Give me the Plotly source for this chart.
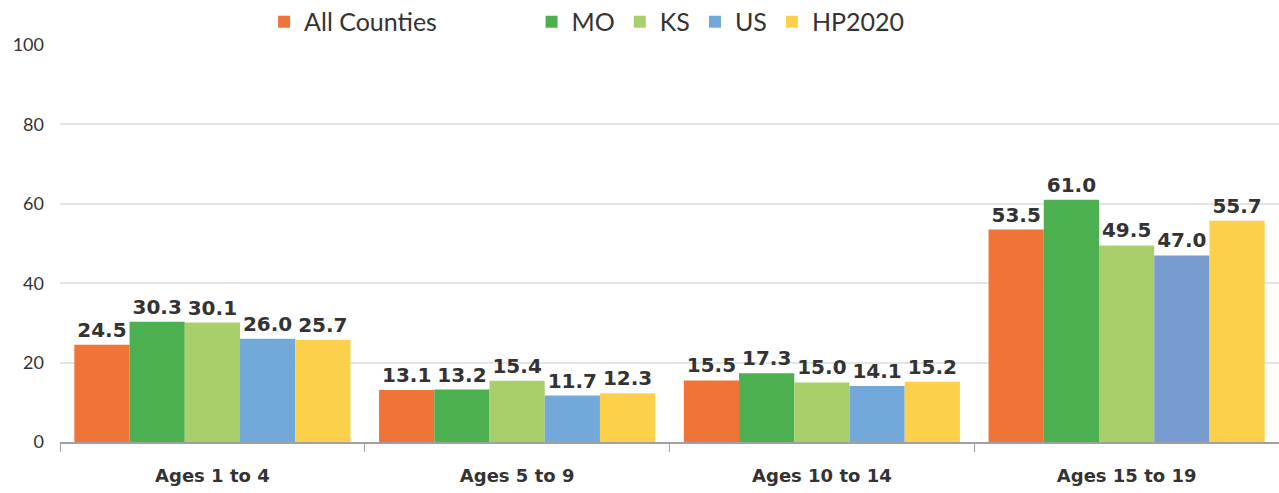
import plotly.graph_objects as go

categories = ["Ages 1 to 4", "Ages 5 to 9", "Ages 10 to 14", "Ages 15 to 19"]
series_names = ["All Counties", "MO", "KS", "US", "HP2020"]
all_counties = [24.5, 13.1, 15.5, 53.5]
mo = [30.3, 13.2, 17.3, 61.0]
ks = [30.1, 15.4, 15.0, 49.5]
us = [26.0, 11.7, 14.1, 47.0]
hp2020 = [25.7, 12.3, 15.2, 55.7]
colors = ["#F07438", "#4CB050", "#A8CF6A", "#73A8DA", "#FDD04B"]
us_last_color = "#789CCF"
y_ticks = [0, 20, 40, 60, 80, 100]

# legend entry padding (non-breaking spaces) to reproduce the wide first legend slot
legend_pad = ["\u00a0" * 14, "", "", "", ""]

fig = go.Figure()
for name, pad, vals, col in zip(series_names, legend_pad,
                                [all_counties, mo, ks, us, hp2020], colors):
    mcol = col
    if name == "US":
        mcol = [col] * (len(vals) - 1) + [us_last_color]
    fig.add_trace(go.Bar(
        x=categories, y=vals, name=name + pad, marker_color=mcol,
        marker_line_width=0,
        text=[f"{v:.1f}" for v in vals], textposition="outside",
        textfont=dict(family="DejaVu Sans", size=20, color="#333333", weight="bold"),
        cliponaxis=False,
    ))

fig.update_layout(
    width=1279, height=493,
    margin=dict(l=60, r=0, t=45, b=51, autoexpand=False),
    paper_bgcolor="white", plot_bgcolor="white",
    barmode="group", bargap=0.094, bargroupgap=0,
    font=dict(family="Lato", color="#333333"),
    legend=dict(orientation="h", x=0.432, xanchor="center", y=1.058, yanchor="middle",
                font=dict(size=25, family="Lato", color="#333333"), itemwidth=30,
                traceorder="normal"),
    showlegend=True,
)
fig.update_yaxes(range=[0, 100], tickvals=y_ticks, showgrid=True, gridcolor="#E3E6E6",
                 gridwidth=2, zeroline=False, ticks="", ticklabelstandoff=15,
                 automargin=False,
                 tickfont=dict(size=18, family="Lato", color="#333333"))
fig.update_xaxes(showline=True, linecolor="#A0A0A0", linewidth=2, ticks="outside",
                 tickson="boundaries", ticklen=8, tickcolor="#A0A0A0", tickwidth=1,
                 ticklabelstandoff=16, automargin=False,
                 tickfont=dict(size=18, family="DejaVu Sans", color="#333333", weight="bold"))

fig.write_html("out.html", config={"displayModeBar": False},
               post_script="document.body.style.margin='0';")
